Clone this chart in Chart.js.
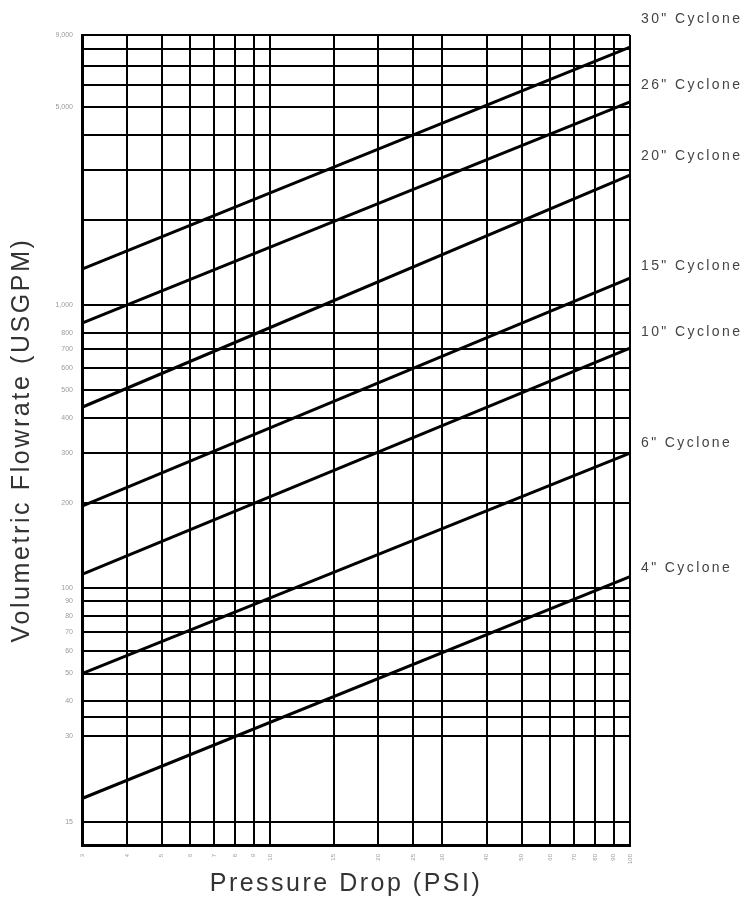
<!DOCTYPE html>
<html>
<head>
<meta charset="utf-8">
<script src="https://cdn.jsdelivr.net/npm/chart.js@4"></script>
<style>
  html, body { margin: 0; padding: 0; background: #fff; }
  #wrap { width: 747px; height: 900px; }
</style>
</head>
<body>
<div id="wrap"><canvas id="chart-cyclone" width="747" height="900"></canvas></div>
<script>
// ---- data ----
const pressureDrop = [3, 100]; // PSI, line ends
const cycloneNames = ['30" Cyclone', '26" Cyclone', '20" Cyclone', '15" Cyclone', '10" Cyclone', '6" Cyclone', '4" Cyclone'];
const flow30 = [1340, 8160];
const flow26 = [864, 5220];
const flow20 = [436, 2880];
const flow15 = [195, 1246];
const flow10 = [112, 705];
const flow6 = [50, 300];
const flow4 = [18.1, 110];

// grid / tick values
const xTicks = [3, 4, 5, 6, 7, 8, 9, 10, 15, 20, 25, 30, 40, 50, 60, 70, 80, 90, 100];
const yTicks = [15, 30, 35, 40, 50, 60, 70, 80, 90, 100, 200, 300, 400, 500, 600, 700, 800,
  1000, 2000, 3000, 4000, 5000, 6000, 7000, 8000, 9000];
const yLabelled = [15, 30, 40, 50, 60, 70, 80, 90, 100, 200, 300, 400, 500, 600, 700, 800, 1000, 5000, 9000];

const allFlows = [flow30, flow26, flow20, flow15, flow10, flow6, flow4];

const ctx = document.getElementById("chart-cyclone").getContext("2d");

const datasets = allFlows.map((flow, i) => ({
  label: cycloneNames[i],
  data: flow.map((q, j) => ({ x: pressureDrop[j], y: q })),
  borderColor: "#000",
  borderWidth: 3,
  pointRadius: 0,
  tension: 0,
  clip: false,
}));

// label offset above the line end (px)
const labelLift = [28, 17, 19, 12, 16, 10, 8];

new Chart(ctx, {
  type: "line",
  data: { datasets },
  options: {
    responsive: false,
    animation: false,
    layout: { padding: { top: 35, right: 117, left: 0, bottom: 0 } },
    plugins: { legend: { display: false }, tooltip: { enabled: false } },
    scales: {
      x: {
        type: "logarithmic",
        min: 3,
        max: 100,
        afterBuildTicks: (scale) => { scale.ticks = xTicks.map((v) => ({ value: v })); },
        afterFit: (scale) => { scale.height = 55; },
        grid: { color: "#000", lineWidth: 2, drawTicks: false },
        border: { display: true, color: "#000", width: 3 },
        ticks: {
          autoSkip: false,
          minRotation: 90,
          maxRotation: 90,
          padding: 9,
          color: "#9a9a9a",
          font: { family: "Liberation Sans", size: 6 },
          callback: (v) => String(v),
        },
      },
      y: {
        type: "logarithmic",
        min: 12.4,
        max: 9000,
        afterBuildTicks: (scale) => { scale.ticks = yTicks.map((v) => ({ value: v })); },
        afterFit: (scale) => { scale.width = 82; },
        grid: { color: "#000", lineWidth: 2, drawTicks: false },
        border: { display: true, color: "#000", width: 3 },
        ticks: {
          autoSkip: false,
          padding: 9,
          color: "#9a9a9a",
          font: { family: "Liberation Sans", size: 7 },
          callback: (v) => (yLabelled.includes(v) ? v.toLocaleString("en-US") : ""),
        },
      },
    },
  },
  plugins: [
    {
      // подписи циклонов и заголовки осей
      id: "cycloneText",
      afterDraw(chart) {
        const { ctx, chartArea, scales } = chart;
        ctx.save();
        ctx.fillStyle = "#444";
        ctx.font = '14px "Liberation Sans"';
        ctx.letterSpacing = "2.4px";
        ctx.textAlign = "left";
        ctx.textBaseline = "middle";
        allFlows.forEach((flow, i) => {
          const yEnd = scales.y.getPixelForValue(flow[flow.length - 1]);
          ctx.fillText(cycloneNames[i], chartArea.right + 11, yEnd - labelLift[i]);
        });

        ctx.fillStyle = "#333";
        ctx.font = '25px "Liberation Sans"';
        ctx.letterSpacing = "2.5px";
        ctx.textAlign = "center";
        ctx.fillText("Pressure Drop (PSI)", 346, 884);

        ctx.letterSpacing = "2.6px";
        ctx.translate(22, (chartArea.top + chartArea.bottom) / 2);
        ctx.rotate(-Math.PI / 2);
        ctx.fillText("Volumetric Flowrate (USGPM)", 0, 0);
        ctx.restore();
      },
    },
  ],
});
</script>
</body>
</html>
